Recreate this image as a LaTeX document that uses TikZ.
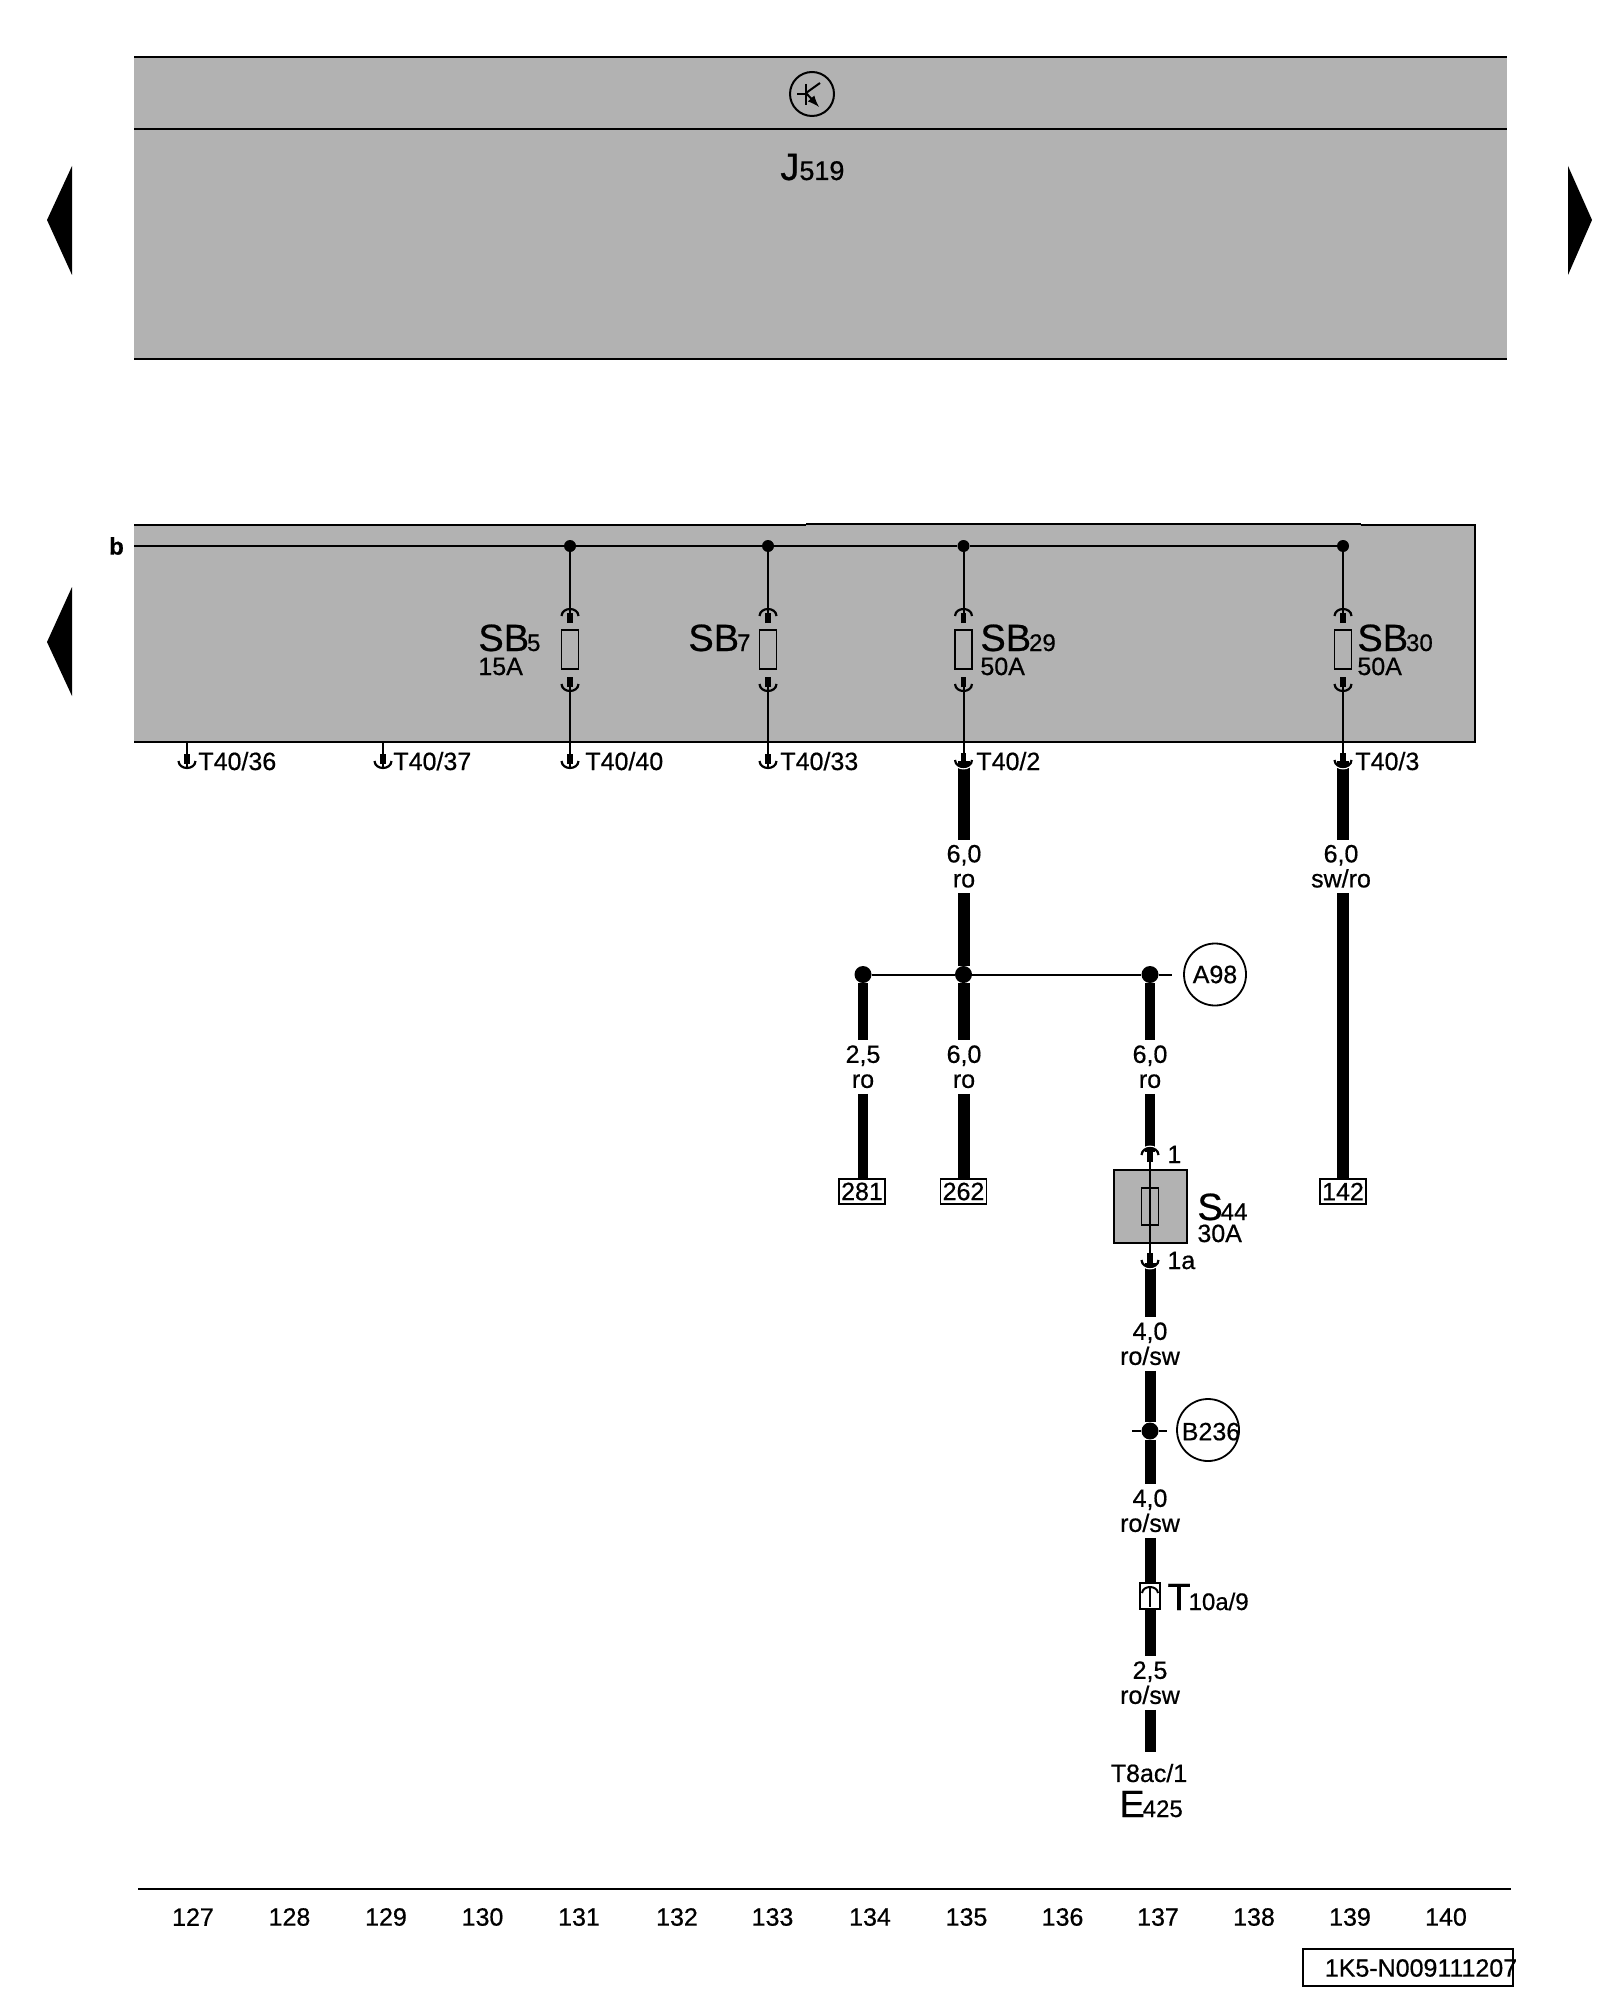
\documentclass[tikz,border=0pt]{standalone}
\usepackage{fontspec}
\setmainfont{Liberation Sans}[FakeBold=0.6]
\usetikzlibrary{calc,positioning}
\definecolor{boxgray}{HTML}{B2B2B2}
\newcommand{\lbl}[2]{{\fontsize{19}{19}\selectfont #1}\kern-1pt{\fontsize{12}{12}\selectfont #2}}
\tikzset{
  pinD/.pic={
    \draw[line width=1.1pt] (-8.5,-7) .. controls (-8,2.3) and (8,2.3) .. (8.5,-7);
    \draw[line width=2.8pt] (0,-14) -- (0,-4);
  },
  gapD/.pic={
    \draw[white,line width=0.7pt] (-8.5,-5) .. controls (-8,4) and (8,4) .. (8.5,-5);
  }
}
\begin{document}
\begin{tikzpicture}[x=0.5pt,y=-0.5pt,
    every node/.style={font=\fontsize{12.5}{12.5}\selectfont,inner sep=0pt},
    ele/.style={fill=black,circle,minimum size=6pt},
    bigele/.style={fill=black,circle,minimum size=8.5pt},
    wire/.style={line width=6pt},
    thinw/.style={line width=1pt},
    outline/.style={line width=1.2pt},
    fuse/.style={draw,line width=0.7pt,minimum width=8.5pt,minimum height=19.5pt},
    lab/.style={anchor=base west},
    gauge/.style={align=center,minimum height=26.5pt},
    refbox/.style={draw,fill=white,line width=0.9pt,minimum width=23pt,minimum height=12.5pt},
    ring/.style={draw,circle,line width=0.9pt,minimum size=31pt}]
  \useasboundingbox (0,0) rectangle (1600,2000);

  % control unit
  \fill[boxgray] (134,57) rectangle (1507,359);
  \draw[outline] (134,57) -- (1507,57);
  \draw[outline] (134,129) -- (1507,129);
  \draw[outline] (134,359) -- (1507,359);
  \node[draw,circle,line width=1pt,minimum size=22pt] (tr) at (812,94) {};
  \draw[line width=1pt] (797,94) -- (806,94);
  \draw[line width=1pt] (806,84) -- (806,105);
  \draw[line width=1pt] (806,93) -- (820,83);
  \draw[line width=1pt,-latex] (806,93) -- (819,107);
  \node[lab] (j519) at (780,180) {{\fontsize{19}{19}\selectfont J}{\fontsize{13.5}{13.5}\selectfont 519}};
  \fill (72,166) -- (47,220) -- (72,275) -- cycle;
  \fill (1568,166) -- (1592,220) -- (1568,275) -- cycle;

  % fuse carrier
  \fill[boxgray] (134,525) rectangle (1475,742);
  \draw[outline] (134,525) -- (806,525);
  \draw[outline] (806,524) -- (1361,524);
  \draw[outline] (1361,525) -- (1475,525) -- (1475,742) -- (134,742);
  \fill (72,587) -- (47,642) -- (72,696) -- cycle;
  \node[font=\fontsize{12}{12}\bfseries] (b) at (116.5,546) {b};

  \coordinate (b0) at (134,546);
  \node[ele] (d1) at (570,546) {};
  \node[ele] (d2) at (768,546) {};
  \node[ele] (d3) at (963.5,546) {};
  \node[ele] (d4) at (1343,546) {};
  \draw[thinw] (b0) -- (d1) -- (d2) -- (d3) -- (d4);

  \node[fuse] (f1) at (570,649.5) {};
  \node[fuse] (f2) at (768,649.5) {};
  \node[fuse] (f3) at (963.5,649.5) {};
  \node[fuse] (f4) at (1343,649.5) {};

  \coordinate (p1) at (570,623);
  \coordinate (p2) at (768,623);
  \coordinate (p3) at (963.5,623);
  \coordinate (p4) at (1343,623);
  \coordinate (q1) at (570,677);
  \coordinate (q2) at (768,677);
  \coordinate (q3) at (963.5,677);
  \coordinate (q4) at (1343,677);
  \coordinate (t1) at (570,768);
  \coordinate (t2) at (768,768);
  \coordinate (t3) at (963.5,767);
  \coordinate (t4) at (1343,767);
  \coordinate (t5) at (187,768);
  \coordinate (t6) at (383,768);
  \coordinate (t7) at (187,742);
  \coordinate (t8) at (383,742);

  \draw[thinw] (d1) -- (p1);
  \draw[thinw] (d2) -- (p2);
  \draw[thinw] (d3) -- (p3);
  \draw[thinw] (d4) -- (p4);
  \draw[thinw] (q1) -- (t1);
  \draw[thinw] (q2) -- (t2);
  \draw[thinw] (q3) -- (t3);
  \draw[thinw] (q4) -- (t4);
  \draw[thinw] (t7) -- (t5);
  \draw[thinw] (t8) -- (t6);

  \pic[yscale=-1] at (570,609) {pinD};
  \pic[yscale=-1] at (768,609) {pinD};
  \pic[yscale=-1] at (963.5,609) {pinD};
  \pic[yscale=-1] at (1343,609) {pinD};
  \pic at (570,691) {pinD};
  \pic at (768,691) {pinD};
  \pic at (963.5,691) {pinD};
  \pic at (1343,691) {pinD};

  \node[lab] (sb5) at (478,651) {\lbl{SB}{5}};
  \node[lab] (a5) at (478,675) {15A};
  \node[lab] (sb7) at (688,651) {\lbl{SB}{7}};
  \node[lab] (sb29) at (980,651) {\lbl{SB}{29}};
  \node[lab] (a29) at (980,675) {50A};
  \node[lab] (sb30) at (1357,651) {\lbl{SB}{30}};
  \node[lab] (a30) at (1357,675) {50A};

  \node[lab] (t36) at (198,770) {T40/36};
  \node[lab] (t37) at (393,770) {T40/37};
  \node[lab] (t40) at (585,770) {T40/40};
  \node[lab] (t33) at (780,770) {T40/33};
  \node[lab] (t2l) at (976,770) {T40/2};
  \node[lab] (t3l) at (1355,770) {T40/3};

  % wires
  \node[gauge] (l1) at (964,866.5) {\raisebox{0.4pt}{6,0}\\\raisebox{0.4pt}{ro}};
  \node[gauge] (l2) at (1341,866.5) {\raisebox{0.4pt}{6,0}\\\raisebox{0.4pt}{sw/ro}};
  \node[gauge] (l3) at (863,1067) {\raisebox{0.4pt}{2,5}\\\raisebox{0.4pt}{ro}};
  \node[gauge] (l4) at (964,1067) {\raisebox{0.4pt}{6,0}\\\raisebox{0.4pt}{ro}};
  \node[gauge] (l5) at (1150,1067) {\raisebox{0.4pt}{6,0}\\\raisebox{0.4pt}{ro}};
  \node[gauge] (l6) at (1150,1344) {\raisebox{0.4pt}{4,0}\\\raisebox{0.4pt}{ro/sw}};
  \node[gauge] (l7) at (1150,1511) {\raisebox{0.4pt}{4,0}\\\raisebox{0.4pt}{ro/sw}};
  \node[gauge] (l8) at (1150,1683) {\raisebox{0.4pt}{2,5}\\\raisebox{0.4pt}{ro/sw}};

  \node[bigele] (j1) at (863,974.5) {};
  \node[bigele] (j2) at (963.5,974.5) {};
  \node[bigele] (j3) at (1150,974.5) {};
  \node[bigele] (j4) at (1150,1431) {};
  \coordinate (a0) at (1172,974.5);
  \coordinate (b1) at (1132,1431);
  \coordinate (b2) at (1167,1431);
  \draw[thinw] (j1) -- (j2) -- (j3) -- (a0);
  \draw[thinw] (b1) -- (j4) -- (b2);

  \node[refbox] (r281) at (862,1191.5) {281};
  \node[refbox] (r262) at (963.5,1191.5) {262};
  \node[refbox] (r142) at (1343,1191.5) {142};

  \coordinate (w1) at (963.5,761);
  \coordinate (w2) at (1343,761);
  \coordinate (w3) at (1150,1152);
  \coordinate (w4) at (1150,1263);
  \coordinate (w5) at (1150,1752);
  \draw[wire] (w1) -- (w1 |- l1.north);
  \draw[wire] (w1 |- l1.south) -- (j2);
  \draw[wire] (j2) -- (j2 |- l4.north);
  \draw[wire] (j2 |- l4.south) -- (r262.north);
  \draw[wire] (w2) -- (w2 |- l2.north);
  \draw[wire] (w2 |- l2.south) -- (r142.north);
  \draw[wire,line width=5pt] (j1) -- (j1 |- l3.north);
  \draw[wire,line width=5pt] (j1 |- l3.south) -- (j1 |- r281.north);
  \draw[wire,line width=5.3pt] (j3) -- (j3 |- l5.north);
  \draw[wire,line width=5.3pt] (j3 |- l5.south) -- (w3);
  \draw[wire,line width=5.5pt] (w4) -- (w4 |- l6.north);
  \draw[wire,line width=5.5pt] (w4 |- l6.south) -- (j4);
  \draw[wire,line width=5.5pt] (j4) -- (j4 |- l7.north);
  \node[draw,fill=white,line width=0.9pt,minimum width=10pt,minimum height=13pt] (t10) at (1150,1596) {};
  \draw[wire,line width=5.5pt] (j4 |- l7.south) -- (t10.north);
  \draw[wire,line width=5.5pt] (t10.south) -- (t10 |- l8.north);
  \draw[wire,line width=5.5pt] (t10 |- l8.south) -- (w5);
  \coordinate (t11) at (1150,1586);
  \coordinate (t12) at (1150,1607);
  \draw[thinw] (t11) -- (t12);
  \draw[line width=1pt] (1142,1593) .. controls (1143,1585) and (1157,1585) .. (1158,1593);

  \pic at (963.5,767) {gapD};
  \pic at (1343,767) {gapD};
  \pic at (570,768) {pinD};
  \pic at (768,768) {pinD};
  \pic at (963.5,767) {pinD};
  \pic at (1343,767) {pinD};
  \pic at (187,768) {pinD};
  \pic at (383,768) {pinD};

  \node[ring] (a98) at (1215,974.5) {\raisebox{-0.8pt}{A98}};
  \node[ring,label={[xshift=1.5pt,yshift=-0.8pt]center:B236}] (b236) at (1208,1430) {};

  % fuse S44
  \node[draw,fill=boxgray,line width=0.9pt,minimum size=36.5pt] (s44) at (1150.5,1206.5) {};
  \node[fuse,minimum height=18.5pt] (f5) at (1150,1206.5) {};
  \coordinate (s0) at (1150,1153);
  \coordinate (s1) at (1150,1262);
  \draw[thinw] (s0) -- (s1);
  \pic[yscale=-1] at (1150,1148) {gapD};
  \pic[yscale=-1] at (1150,1148) {pinD};
  \pic at (1150,1267) {gapD};
  \pic at (1150,1267) {pinD};
  \node[lab] (n1) at (1167,1163) {1};
  \node[lab] (n1a) at (1167,1269) {1a};
  \node[lab] (s44l) at (1197,1220) {\lbl{S}{44}};
  \node[lab] (a44) at (1197,1242) {30A};

  \node[lab] (t10l) at (1167,1610) {\lbl{T}{10a/9}};
  \node (t8) at (1149,1773) {T8ac/1};
  \node[lab] (e425) at (1119,1817) {\lbl{E}{425}};

  % page line
  \coordinate (g0) at (138,1889);
  \coordinate (g1) at (1511,1889);
  \draw[outline] (g0) -- (g1);
  \node (c127) at (193,1917) {127};
  \node (c128) at (289.5,1917) {128};
  \node (c129) at (386,1917) {129};
  \node (c130) at (482.5,1917) {130};
  \node (c131) at (579,1917) {131};
  \node (c132) at (677,1917) {132};
  \node (c133) at (772.5,1917) {133};
  \node (c134) at (870,1917) {134};
  \node (c135) at (966.5,1917) {135};
  \node (c136) at (1062.5,1917) {136};
  \node (c137) at (1158,1917) {137};
  \node (c138) at (1254,1917) {138};
  \node (c139) at (1350,1917) {139};
  \node (c140) at (1446,1917) {140};
  \node[draw,line width=1pt,minimum width=105pt,minimum height=18.5pt] (idb) at (1408,1967.5) {};
  \node (idt) at (1421,1968) {1K5-N009111207};
\end{tikzpicture}
\end{document}
